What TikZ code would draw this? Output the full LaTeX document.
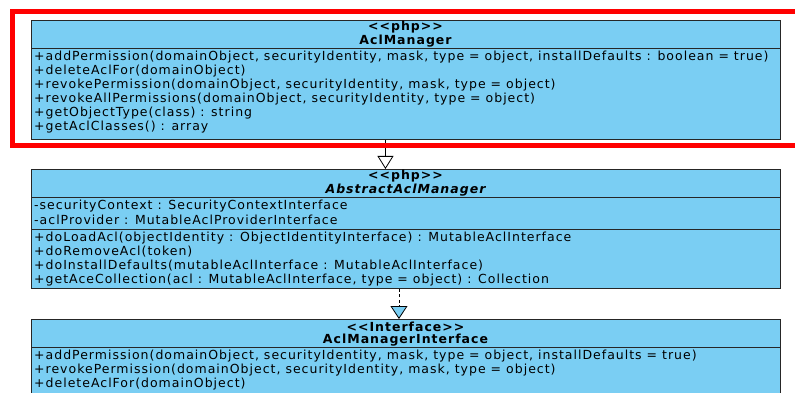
\documentclass[tikz,border=0pt]{standalone}
\usepackage{fontspec}
\setmainfont[LetterSpace=8]{DejaVu Sans}
\usetikzlibrary{positioning, arrows.meta}
\definecolor{ClassBlue}{RGB}{122, 206, 243}
\definecolor{FrameRed}{RGB}{255, 0, 0}

\tikzset{
  classbox/.style={draw=black!85, fill=ClassBlue, line width=0.9pt, inner sep=0pt,
                   minimum width=749pt, anchor=north west},
  member/.style={anchor=west, inner sep=0pt, font=\fontsize{12.5}{14}\selectfont},
  header/.style={inner sep=0pt, font=\fontsize{12.5}{14}\selectfont\bfseries},
  divider/.style={draw=black!85, line width=0.9pt},
  inherits/.style={line width=0.8pt, -{Triangle[width=16pt, length=13pt, fill=white]}},
  realizes/.style={line width=0.8pt, dash pattern=on 3pt off 2.5pt,
                   -{Triangle[width=17pt, length=13pt, fill=ClassBlue]}}
}

\begin{document}
\begin{tikzpicture}[x=1pt, y=-1pt]
      \useasboundingbox (0,0) rectangle (795,393);
      \clip (0,0) rectangle (795,393);

      % AclManager
      \node[classbox, minimum height=119pt] (mgr) at (31,20) {};
      \draw[divider] (31,48) -- (780,48);
      \node[header] (mgr-st) at (405.5,27.5) {<{}<php>{}>};
      \node[header] (mgr-nm) at (405.5,41.5) {AclManager};
      \foreach \i/\t in {0/{+addPermission(domainObject, securityIdentity, mask, type = object, installDefaults : boolean = true)},
                         1/{+deleteAclFor(domainObject)},
                         2/{+revokePermission(domainObject, securityIdentity, mask, type = object)},
                         3/{+revokeAllPermissions(domainObject, securityIdentity, type = object)},
                         4/{+getObjectType(class) : string},
                         5/{+getAclClasses() : array}} {
        \node[member] (mgr-m\i) at (34,57+14*\i) {\t};
      }

      % AbstractAclManager
      \node[classbox, minimum height=119pt] (abs) at (31,169) {};
      \draw[divider] (31,197) -- (780,197);
      \draw[divider] (31,229) -- (780,229);
      \node[header] (abs-st) at (405.5,176.5) {<{}<php>{}>};
      \node[header] (abs-nm) at (405.5,190.5) {\itshape AbstractAclManager};
      \node[member] (abs-a0) at (34,206) {-securityContext : SecurityContextInterface};
      \node[member] (abs-a1) at (34,220) {-aclProvider : MutableAclProviderInterface};
      \foreach \i/\t in {0/{+doLoadAcl(objectIdentity : ObjectIdentityInterface) : MutableAclInterface},
                         1/{+doRemoveAcl(token)},
                         2/{+doInstallDefaults(mutableAclInterface : MutableAclInterface)},
                         3/{+getAceCollection(acl : MutableAclInterface, type = object) : Collection}} {
        \node[member] (abs-m\i) at (34,238+14*\i) {\t};
      }

      % AclManagerInterface
      \node[classbox, minimum height=100pt] (ifc) at (31,319) {};
      \draw[divider] (31,347) -- (780,347);
      \node[header] (ifc-st) at (405.5,326.5) {<{}<Interface>{}>};
      \node[header] (ifc-nm) at (405.5,340.5) {AclManagerInterface};
      \foreach \i/\t in {0/{+addPermission(domainObject, securityIdentity, mask, type = object, installDefaults = true)},
                         1/{+revokePermission(domainObject, securityIdentity, mask, type = object)},
                         2/{+deleteAclFor(domainObject)}} {
        \node[member] (ifc-m\i) at (34,356+14*\i) {\t};
      }

      % Relations
      \draw[inherits] ([xshift=-20.5pt]mgr.south) -- ([xshift=-20.5pt]abs.north);
      \draw[realizes] ([xshift=-7pt]abs.south) -- ([xshift=-7pt]ifc.north);

      % Highlight frame
      \draw[FrameRed, line width=5pt] (900,11.5) -| (12.5,146) -- (900,146);
\end{tikzpicture}
\end{document}
